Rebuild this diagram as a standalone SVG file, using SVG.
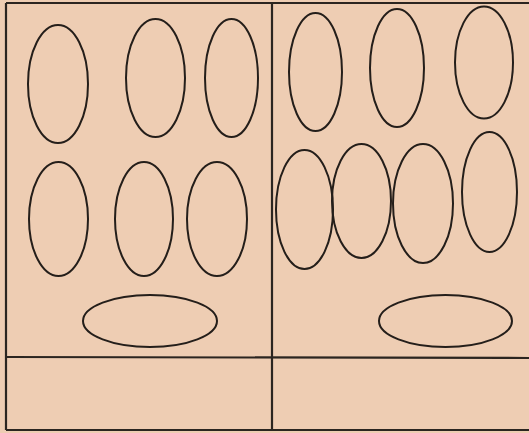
<svg xmlns="http://www.w3.org/2000/svg" width="529" height="433" viewBox="0 0 529 433">
  <style>
    .bg { fill: #eecdb3; }
    .frame { fill: none; stroke: #2b2520; stroke-width: 2.2; }
    .node ellipse { fill: none; stroke: #241e1a; stroke-width: 2; }
  </style>
  <rect class="bg" x="0" y="0" width="529" height="433"/>
  <g id="frame">
    <line class="frame" x1="6" y1="3" x2="529" y2="3"/>
    <line class="frame" x1="6" y1="3" x2="6" y2="430"/>
    <line class="frame" x1="6" y1="430" x2="529" y2="430"/>
    <line class="frame" x1="272" y1="3" x2="272" y2="430"/>
    <line class="frame" x1="6" y1="357" x2="529" y2="358"/>
  </g>
  <g id="connectors"></g>
  <g id="L1" class="node"><ellipse cx="58" cy="84" rx="30" ry="59"/></g>
  <g id="L2" class="node"><ellipse cx="155.5" cy="78" rx="29.5" ry="59"/></g>
  <g id="L3" class="node"><ellipse cx="231.5" cy="78" rx="26.5" ry="59"/></g>
  <g id="L4" class="node"><ellipse cx="58.5" cy="219" rx="29.5" ry="57"/></g>
  <g id="L5" class="node"><ellipse cx="144" cy="219" rx="29" ry="57"/></g>
  <g id="L6" class="node"><ellipse cx="217" cy="219" rx="30" ry="57"/></g>
  <g id="L7" class="node"><ellipse cx="150" cy="321" rx="67" ry="26"/></g>
  <g id="R1" class="node"><ellipse cx="315.5" cy="72" rx="26.5" ry="59"/></g>
  <g id="R2" class="node"><ellipse cx="397" cy="68" rx="27" ry="59"/></g>
  <g id="R3" class="node"><ellipse cx="484" cy="62.5" rx="29" ry="56"/></g>
  <g id="R4" class="node"><ellipse cx="304.5" cy="209.5" rx="28.5" ry="59.5"/></g>
  <g id="R5" class="node"><ellipse cx="361.5" cy="201" rx="29.5" ry="57"/></g>
  <g id="R6" class="node"><ellipse cx="423" cy="203.5" rx="30" ry="59.5"/></g>
  <g id="R7" class="node"><ellipse cx="489.5" cy="192" rx="27.5" ry="60"/></g>
  <g id="R8" class="node"><ellipse cx="445.5" cy="321" rx="66.5" ry="26"/></g>
</svg>
